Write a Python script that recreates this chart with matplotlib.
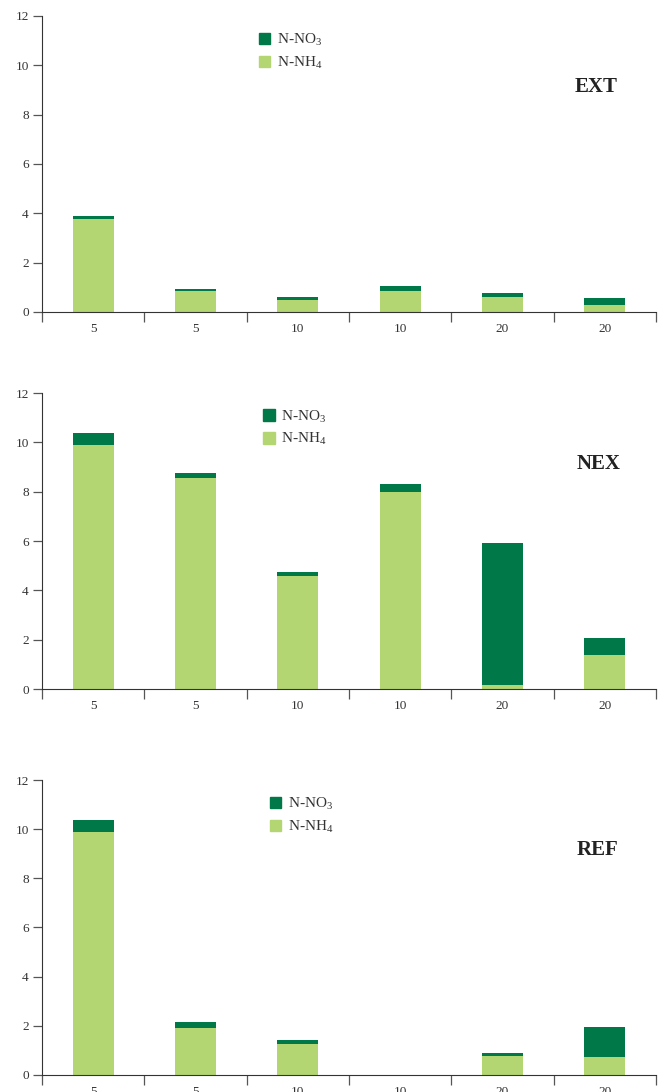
import matplotlib
matplotlib.use("Agg")
import matplotlib.pyplot as plt
from matplotlib.patches import Patch
import numpy as np

plt.rcParams['font.family'] = ['Liberation Serif', 'DejaVu Serif']
plt.rcParams['mathtext.fontset'] = 'custom'
plt.rcParams['mathtext.rm'] = 'Liberation Serif'
plt.rcParams['mathtext.it'] = 'Liberation Serif:italic'

# category labels (x axis)
labels = ["5", "5", "10", "10", "20", "20"]

# N-NH4 (bottom) and N-NO3 (top) per panel
ext_nh4 = [3.78, 0.87, 0.50, 0.85, 0.61, 0.28]
ext_no3 = [0.12, 0.06, 0.12, 0.21, 0.16, 0.29]

nex_nh4 = [9.90, 8.56, 4.58, 8.00, 0.15, 1.37]
nex_no3 = [0.48, 0.21, 0.16, 0.32, 5.77, 0.69]

ref_nh4 = [9.88, 1.92, 1.27, 0.0, 0.79, 0.75]
ref_no3 = [0.49, 0.25, 0.17, 0.0, 0.11, 1.21]

panels = ["EXT", "NEX", "REF"]
nh4_all = [ext_nh4, nex_nh4, ref_nh4]
no3_all = [ext_no3, nex_no3, ref_no3]

c_no3 = "#007848"
c_nh4 = "#b4d672"
axis_col = "#333333"

# axes rectangles [left, bottom, width, height] in figure fraction
rects = [
    [0.0632, 0.7143, 0.9233, 0.2711],
    [0.0632, 0.3690, 0.9233, 0.2711],
    [0.0632, 0.0156, 0.9233, 0.2701],
]
leg_pos = [(0.353, 0.945), (0.360, 0.948), (0.371, 0.947)]
title_pos = [(0.902, 0.76), (0.907, 0.76), (0.905, 0.763)]

fig = plt.figure(figsize=(6.65, 10.92), dpi=100)

for i in range(3):
    ax = fig.add_axes(rects[i])
    x = np.arange(len(labels))
    ax.bar(x, nh4_all[i], width=0.4, color=c_nh4, label="N-NH$_4$")
    ax.bar(x, no3_all[i], width=0.4, bottom=nh4_all[i], color=c_no3, label="N-NO$_3$")

    ax.set_xlim(-0.5, len(labels) - 0.5)
    ax.set_ylim(0, 12)
    ax.set_yticks(range(0, 13, 2))

    ax.spines["top"].set_visible(False)
    ax.spines["right"].set_visible(False)
    ax.spines["left"].set_color(axis_col)
    ax.spines["bottom"].set_color(axis_col)

    # boundaries as major ticks, labels at category centres
    ax.set_xticks(np.arange(-0.5, len(labels), 1.0))
    ax.set_xticklabels([])
    ax.set_xticks(x, minor=True)
    ax.set_xticklabels(labels, minor=True)
    ax.tick_params(axis="x", which="major", direction="out", length=7, width=0.9, color="#555555")
    ax.tick_params(axis="x", which="minor", length=0, pad=8, labelsize=9.5, labelcolor="#333333")
    ax.tick_params(axis="y", direction="out", length=6.5, width=0.9, color="#555555",
                   labelsize=9.5, labelcolor="#333333", pad=3)

    handles = [Patch(color=c_no3, label="N-NO$_3$"), Patch(color=c_nh4, label="N-NH$_4$")]
    ax.legend(handles=handles, loc="upper left", bbox_to_anchor=leg_pos[i], frameon=False,
              fontsize=11, handlelength=0.75, handleheight=0.75, handletextpad=0.45,
              labelspacing=0.45, borderpad=0, borderaxespad=0, labelcolor="#333333")

    ax.text(title_pos[i][0], title_pos[i][1], panels[i], transform=ax.transAxes,
            ha="center", va="center", fontsize=15, fontweight="bold", color="#222222")

fig.savefig("out.png", dpi=100)
